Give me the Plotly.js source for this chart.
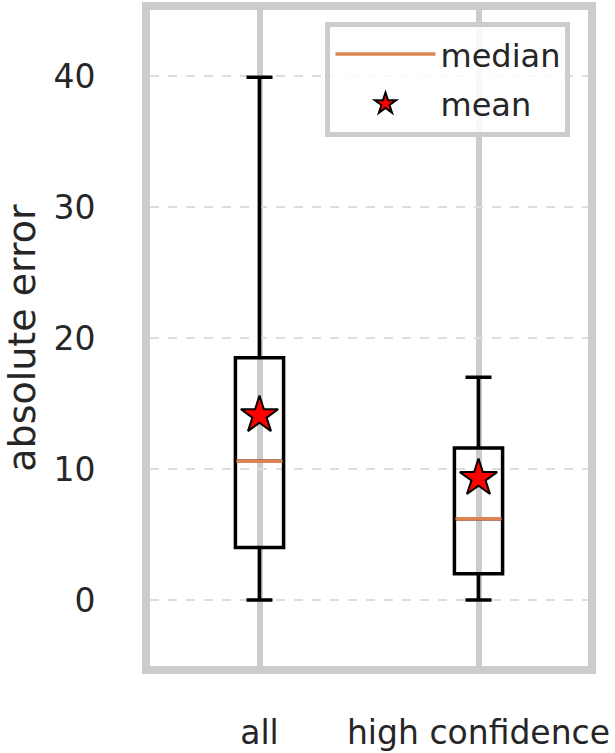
<!DOCTYPE html>
<html>
<head>
<meta charset="utf-8">
<script src="https://cdn.plot.ly/plotly-3.0.1.min.js"></script>
<style>html,body{margin:0;padding:0;background:#fff;}#chart{width:615px;height:753px;}</style>
</head>
<body>
<div id="chart"></div>
<script>
const categories = ["all", "high confidence"];
const q1Values = [4.0, 2.0];
const medianValues = [10.6, 6.2];
const q3Values = [18.5, 11.6];
const lowerWhisker = [0.0, 0.0];
const upperWhisker = [39.9, 17.0];
const meanValues = [14.1, 9.3];
const yTickVals = [0, 10, 20, 30, 40];

const positions = categories.map((c, i) => i);
const boxWidth = 0.22;
const textColor = "#262626";
const font = "DejaVu Sans, sans-serif";

const boxTrace = {
  type: "box",
  x: positions,
  q1: q1Values,
  median: medianValues,
  q3: q3Values,
  lowerfence: lowerWhisker,
  upperfence: upperWhisker,
  width: boxWidth,
  whiskerwidth: 0.54,
  line: {color: "#000000", width: 3.5},
  fillcolor: "rgba(0,0,0,0)",
  showlegend: false,
  hoverinfo: "skip"
};

const medX = [], medY = [];
positions.forEach((p, i) => {
  medX.push(p - boxWidth / 2 + 0.005, p + boxWidth / 2 - 0.005, null);
  medY.push(medianValues[i], medianValues[i], null);
});
const medianTrace = {
  type: "scatter",
  mode: "lines",
  x: medX,
  y: medY,
  name: "median",
  legendgroup: "a",
  line: {color: "#dd8452", width: 3.5},
  connectgaps: false
};

const meanTrace = {
  type: "scatter",
  mode: "markers",
  x: positions,
  y: meanValues,
  name: "mean",
  legendgroup: "b",
  marker: {symbol: "star", size: 28, color: "#ff0000", line: {color: "#000000", width: 2}}
};

const layout = {
  width: 615,
  height: 753,
  margin: {l: 150, r: 27, t: 10, b: 87},
  paper_bgcolor: "#ffffff",
  plot_bgcolor: "#ffffff",
  font: {family: font, size: 33, color: textColor},
  showlegend: true,
  legend: {
    x: 0.96, y: 0.982, xanchor: "right", yanchor: "top",
    bgcolor: "rgba(255,255,255,0.85)",
    bordercolor: "#cccccc", borderwidth: 5,
    font: {family: font, size: 32, color: textColor},
    itemwidth: 100,
    tracegroupgap: 5
  },
  xaxis: {
    range: [-0.5, 1.5],
    tickmode: "array",
    tickvals: positions,
    ticktext: categories,
    ticks: "",
    ticklabelstandoff: 30,
    showgrid: true,
    gridcolor: "#cccccc",
    gridwidth: 6,
    zeroline: false,
    showline: true,
    mirror: true,
    linecolor: "#cccccc",
    linewidth: 8,
    tickfont: {family: font, size: 33, color: textColor}
  },
  yaxis: {
    range: [-5.04, 45.04],
    tickmode: "array",
    tickvals: yTickVals,
    ticks: "",
    ticklabelstandoff: 40,
    showgrid: true,
    gridcolor: "#dddddd",
    gridwidth: 1.5,
    griddash: "dash",
    zeroline: false,
    showline: true,
    mirror: true,
    linecolor: "#cccccc",
    linewidth: 8,
    tickfont: {family: font, size: 33, color: textColor},
    title: {text: "absolute error", font: {family: font, size: 38, color: textColor}, standoff: 18}
  }
};

Plotly.newPlot("chart", [boxTrace, medianTrace, meanTrace], layout, {displayModeBar: false, staticPlot: true});
</script>
</body>
</html>
